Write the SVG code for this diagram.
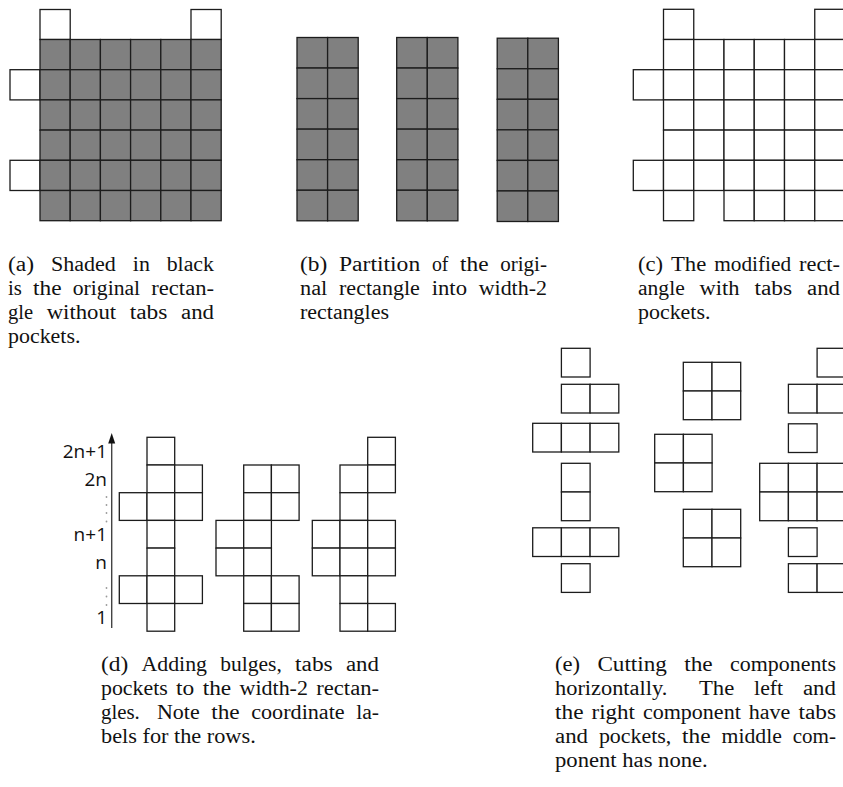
<svg xmlns="http://www.w3.org/2000/svg" width="843" height="787" viewBox="0 0 843 787">
<style>
  .c { fill: #ffffff; stroke: #1c1c1c; stroke-width: 1.3; }
  .g { fill: #808080; stroke: #1c1c1c; stroke-width: 1.3; }
  .cap { font-family: "Liberation Serif", "DejaVu Serif", serif; font-size: 20px; fill: #111111; }
  .lab { font-family: "Open Sans", "Liberation Sans", sans-serif; font-size: 19px; fill: #111111; text-anchor: end; }
  .dot { fill: #9a9a9a; }
</style>
<rect x="0" y="0" width="843" height="787" fill="#ffffff"/>

<!-- Panel (a) -->
<g id="panel-a">
  <rect class="c" x="40" y="9.5" width="30.2" height="30"/>
  <rect class="c" x="191" y="9.5" width="30.2" height="30"/>
  <rect class="c" x="10" y="69.7" width="30" height="30.2"/>
  <rect class="c" x="10" y="160.3" width="30" height="30.2"/>
  <g id="a-grid">
    <rect class="g" x="40" y="39.5" width="30.2" height="30.2"/><rect class="g" x="70.2" y="39.5" width="30.2" height="30.2"/><rect class="g" x="100.4" y="39.5" width="30.2" height="30.2"/><rect class="g" x="130.6" y="39.5" width="30.2" height="30.2"/><rect class="g" x="160.8" y="39.5" width="30.2" height="30.2"/><rect class="g" x="191" y="39.5" width="30.2" height="30.2"/>
    <rect class="g" x="40" y="69.7" width="30.2" height="30.2"/><rect class="g" x="70.2" y="69.7" width="30.2" height="30.2"/><rect class="g" x="100.4" y="69.7" width="30.2" height="30.2"/><rect class="g" x="130.6" y="69.7" width="30.2" height="30.2"/><rect class="g" x="160.8" y="69.7" width="30.2" height="30.2"/><rect class="g" x="191" y="69.7" width="30.2" height="30.2"/>
    <rect class="g" x="40" y="99.9" width="30.2" height="30.2"/><rect class="g" x="70.2" y="99.9" width="30.2" height="30.2"/><rect class="g" x="100.4" y="99.9" width="30.2" height="30.2"/><rect class="g" x="130.6" y="99.9" width="30.2" height="30.2"/><rect class="g" x="160.8" y="99.9" width="30.2" height="30.2"/><rect class="g" x="191" y="99.9" width="30.2" height="30.2"/>
    <rect class="g" x="40" y="130.1" width="30.2" height="30.2"/><rect class="g" x="70.2" y="130.1" width="30.2" height="30.2"/><rect class="g" x="100.4" y="130.1" width="30.2" height="30.2"/><rect class="g" x="130.6" y="130.1" width="30.2" height="30.2"/><rect class="g" x="160.8" y="130.1" width="30.2" height="30.2"/><rect class="g" x="191" y="130.1" width="30.2" height="30.2"/>
    <rect class="g" x="40" y="160.3" width="30.2" height="30.2"/><rect class="g" x="70.2" y="160.3" width="30.2" height="30.2"/><rect class="g" x="100.4" y="160.3" width="30.2" height="30.2"/><rect class="g" x="130.6" y="160.3" width="30.2" height="30.2"/><rect class="g" x="160.8" y="160.3" width="30.2" height="30.2"/><rect class="g" x="191" y="160.3" width="30.2" height="30.2"/>
    <rect class="g" x="40" y="190.5" width="30.2" height="30.2"/><rect class="g" x="70.2" y="190.5" width="30.2" height="30.2"/><rect class="g" x="100.4" y="190.5" width="30.2" height="30.2"/><rect class="g" x="130.6" y="190.5" width="30.2" height="30.2"/><rect class="g" x="160.8" y="190.5" width="30.2" height="30.2"/><rect class="g" x="191" y="190.5" width="30.2" height="30.2"/>
  </g>
  <text class="cap" y="271"><tspan x="8" textLength="26.2" lengthAdjust="spacingAndGlyphs">(a)</tspan> <tspan x="51" textLength="64.9" lengthAdjust="spacingAndGlyphs">Shaded</tspan> <tspan x="132.8" textLength="17.1" lengthAdjust="spacingAndGlyphs">in</tspan> <tspan x="166.7" textLength="47.3" lengthAdjust="spacingAndGlyphs">black</tspan></text>
  <text class="cap" y="295"><tspan x="8" textLength="13.8" lengthAdjust="spacingAndGlyphs">is</tspan> <tspan x="33" textLength="28.5" lengthAdjust="spacingAndGlyphs">the</tspan> <tspan x="72.8" textLength="67.3" lengthAdjust="spacingAndGlyphs">original</tspan> <tspan x="151.3" textLength="62.7" lengthAdjust="spacingAndGlyphs">rectan-</tspan></text>
  <text class="cap" y="319"><tspan x="8" textLength="25.1" lengthAdjust="spacingAndGlyphs">gle</tspan> <tspan x="46.7" textLength="69.5" lengthAdjust="spacingAndGlyphs">without</tspan> <tspan x="129.7" textLength="37.7" lengthAdjust="spacingAndGlyphs">tabs</tspan> <tspan x="181" textLength="33" lengthAdjust="spacingAndGlyphs">and</tspan></text>
  <text class="cap" x="8" y="343" textLength="72.4" lengthAdjust="spacingAndGlyphs">pockets.</text>
</g>

<!-- Panel (b) -->
<g id="panel-b">
  <g id="b-rect-1">
    <rect class="g" x="297" y="37.5" width="30.6" height="30.55"/><rect class="g" x="327.6" y="37.5" width="30.6" height="30.55"/>
    <rect class="g" x="297" y="68.05" width="30.6" height="30.55"/><rect class="g" x="327.6" y="68.05" width="30.6" height="30.55"/>
    <rect class="g" x="297" y="98.6" width="30.6" height="30.55"/><rect class="g" x="327.6" y="98.6" width="30.6" height="30.55"/>
    <rect class="g" x="297" y="129.15" width="30.6" height="30.55"/><rect class="g" x="327.6" y="129.15" width="30.6" height="30.55"/>
    <rect class="g" x="297" y="159.7" width="30.6" height="30.55"/><rect class="g" x="327.6" y="159.7" width="30.6" height="30.55"/>
    <rect class="g" x="297" y="190.25" width="30.6" height="30.55"/><rect class="g" x="327.6" y="190.25" width="30.6" height="30.55"/>
  </g>
  <g id="b-rect-2">
    <rect class="g" x="396.7" y="37.5" width="30.6" height="30.55"/><rect class="g" x="427.3" y="37.5" width="30.6" height="30.55"/>
    <rect class="g" x="396.7" y="68.05" width="30.6" height="30.55"/><rect class="g" x="427.3" y="68.05" width="30.6" height="30.55"/>
    <rect class="g" x="396.7" y="98.6" width="30.6" height="30.55"/><rect class="g" x="427.3" y="98.6" width="30.6" height="30.55"/>
    <rect class="g" x="396.7" y="129.15" width="30.6" height="30.55"/><rect class="g" x="427.3" y="129.15" width="30.6" height="30.55"/>
    <rect class="g" x="396.7" y="159.7" width="30.6" height="30.55"/><rect class="g" x="427.3" y="159.7" width="30.6" height="30.55"/>
    <rect class="g" x="396.7" y="190.25" width="30.6" height="30.55"/><rect class="g" x="427.3" y="190.25" width="30.6" height="30.55"/>
  </g>
  <g id="b-rect-3">
    <rect class="g" x="497.2" y="38.2" width="30.6" height="30.55"/><rect class="g" x="527.8" y="38.2" width="30.6" height="30.55"/>
    <rect class="g" x="497.2" y="68.75" width="30.6" height="30.55"/><rect class="g" x="527.8" y="68.75" width="30.6" height="30.55"/>
    <rect class="g" x="497.2" y="99.3" width="30.6" height="30.55"/><rect class="g" x="527.8" y="99.3" width="30.6" height="30.55"/>
    <rect class="g" x="497.2" y="129.85" width="30.6" height="30.55"/><rect class="g" x="527.8" y="129.85" width="30.6" height="30.55"/>
    <rect class="g" x="497.2" y="160.4" width="30.6" height="30.55"/><rect class="g" x="527.8" y="160.4" width="30.6" height="30.55"/>
    <rect class="g" x="497.2" y="190.95" width="30.6" height="30.55"/><rect class="g" x="527.8" y="190.95" width="30.6" height="30.55"/>
  </g>
  <text class="cap" y="271"><tspan x="300" textLength="27.3" lengthAdjust="spacingAndGlyphs">(b)</tspan> <tspan x="339" textLength="81.2" lengthAdjust="spacingAndGlyphs">Partition</tspan> <tspan x="431.9" textLength="16.5" lengthAdjust="spacingAndGlyphs">of</tspan> <tspan x="460" textLength="28.5" lengthAdjust="spacingAndGlyphs">the</tspan> <tspan x="500.2" textLength="46.8" lengthAdjust="spacingAndGlyphs">origi-</tspan></text>
  <text class="cap" y="295"><tspan x="300" textLength="27.3" lengthAdjust="spacingAndGlyphs">nal</tspan> <tspan x="339" textLength="80.9" lengthAdjust="spacingAndGlyphs">rectangle</tspan> <tspan x="431.7" textLength="35.3" lengthAdjust="spacingAndGlyphs">into</tspan> <tspan x="478.7" textLength="68.3" lengthAdjust="spacingAndGlyphs">width-2</tspan></text>
  <text class="cap" x="300" y="319" textLength="89" lengthAdjust="spacingAndGlyphs">rectangles</text>
</g>

<!-- Panel (c) -->
<g id="panel-c">
  <rect class="c" x="663.5" y="9.3" width="30.25" height="30.2"/>
  <rect class="c" x="814.75" y="9.3" width="30.25" height="30.2"/>
  <rect class="c" x="633.3" y="69.7" width="30.2" height="30.2"/>
  <rect class="c" x="633.3" y="160.3" width="30.2" height="30.2"/>
  <g id="c-grid">
    <rect class="c" x="663.5" y="39.5" width="30.25" height="30.2"/><rect class="c" x="693.75" y="39.5" width="30.25" height="30.2"/><rect class="c" x="724" y="39.5" width="30.25" height="30.2"/><rect class="c" x="754.25" y="39.5" width="30.25" height="30.2"/><rect class="c" x="784.5" y="39.5" width="30.25" height="30.2"/><rect class="c" x="814.75" y="39.5" width="30.25" height="30.2"/>
    <rect class="c" x="663.5" y="69.7" width="30.25" height="30.2"/><rect class="c" x="693.75" y="69.7" width="30.25" height="30.2"/><rect class="c" x="724" y="69.7" width="30.25" height="30.2"/><rect class="c" x="754.25" y="69.7" width="30.25" height="30.2"/><rect class="c" x="784.5" y="69.7" width="30.25" height="30.2"/><rect class="c" x="814.75" y="69.7" width="30.25" height="30.2"/>
    <rect class="c" x="663.5" y="99.9" width="30.25" height="30.2"/><rect class="c" x="693.75" y="99.9" width="30.25" height="30.2"/><rect class="c" x="724" y="99.9" width="30.25" height="30.2"/><rect class="c" x="754.25" y="99.9" width="30.25" height="30.2"/><rect class="c" x="784.5" y="99.9" width="30.25" height="30.2"/><rect class="c" x="814.75" y="99.9" width="30.25" height="30.2"/>
    <rect class="c" x="663.5" y="130.1" width="30.25" height="30.2"/><rect class="c" x="693.75" y="130.1" width="30.25" height="30.2"/><rect class="c" x="724" y="130.1" width="30.25" height="30.2"/><rect class="c" x="754.25" y="130.1" width="30.25" height="30.2"/><rect class="c" x="784.5" y="130.1" width="30.25" height="30.2"/><rect class="c" x="814.75" y="130.1" width="30.25" height="30.2"/>
    <rect class="c" x="663.5" y="160.3" width="30.25" height="30.2"/><rect class="c" x="693.75" y="160.3" width="30.25" height="30.2"/><rect class="c" x="724" y="160.3" width="30.25" height="30.2"/><rect class="c" x="754.25" y="160.3" width="30.25" height="30.2"/><rect class="c" x="784.5" y="160.3" width="30.25" height="30.2"/><rect class="c" x="814.75" y="160.3" width="30.25" height="30.2"/>
    <rect class="c" x="663.5" y="190.5" width="30.25" height="30.2"/><rect class="c" x="724" y="190.5" width="30.25" height="30.2"/><rect class="c" x="754.25" y="190.5" width="30.25" height="30.2"/><rect class="c" x="784.5" y="190.5" width="30.25" height="30.2"/><rect class="c" x="814.75" y="190.5" width="30.25" height="30.2"/>
  </g>
  <text class="cap" y="271"><tspan x="638" textLength="25.1" lengthAdjust="spacingAndGlyphs">(c)</tspan> <tspan x="671" textLength="35.3" lengthAdjust="spacingAndGlyphs">The</tspan> <tspan x="714.2" textLength="76.9" lengthAdjust="spacingAndGlyphs">modified</tspan> <tspan x="799" textLength="41" lengthAdjust="spacingAndGlyphs">rect-</tspan></text>
  <text class="cap" y="295"><tspan x="638" textLength="46.7" lengthAdjust="spacingAndGlyphs">angle</tspan> <tspan x="699.6" textLength="39.9" lengthAdjust="spacingAndGlyphs">with</tspan> <tspan x="754.4" textLength="37.7" lengthAdjust="spacingAndGlyphs">tabs</tspan> <tspan x="807" textLength="33" lengthAdjust="spacingAndGlyphs">and</tspan></text>
  <text class="cap" x="638" y="319" textLength="72.4" lengthAdjust="spacingAndGlyphs">pockets.</text>
</g>

<!-- Panel (d) -->
<g id="panel-d">
  <g id="d-axis">
    <line x1="111.7" y1="628" x2="111.7" y2="442" stroke="#444444" stroke-width="1.4"/>
    <polygon points="111.7,433 115.2,443.5 108.2,443.5" fill="#111111"/>
    <text class="lab" x="107" y="458">2n+1</text>
    <text class="lab" x="107" y="486">2n</text>
    <circle class="dot" cx="106.5" cy="497" r="0.9"/><circle class="dot" cx="106.5" cy="505" r="0.9"/><circle class="dot" cx="106.5" cy="513" r="0.9"/><circle class="dot" cx="106.5" cy="521.5" r="0.9"/>
    <text class="lab" x="107" y="541">n+1</text>
    <text class="lab" x="107" y="569">n</text>
    <circle class="dot" cx="106.5" cy="588" r="0.9"/><circle class="dot" cx="106.5" cy="596.5" r="0.9"/><circle class="dot" cx="106.5" cy="605" r="0.9"/>
    <text class="lab" x="107" y="624">1</text>
  </g>
  <g id="d-comp-1">
    <rect class="c" x="147" y="437.3" width="27.7" height="27.7"/>
    <rect class="c" x="147" y="465" width="27.7" height="27.7"/><rect class="c" x="174.7" y="465" width="27.7" height="27.7"/>
    <rect class="c" x="119.3" y="492.7" width="27.7" height="27.7"/><rect class="c" x="147" y="492.7" width="27.7" height="27.7"/><rect class="c" x="174.7" y="492.7" width="27.7" height="27.7"/>
    <rect class="c" x="147" y="520.4" width="27.7" height="27.7"/>
    <rect class="c" x="147" y="548.1" width="27.7" height="27.7"/>
    <rect class="c" x="119.3" y="575.8" width="27.7" height="27.7"/><rect class="c" x="147" y="575.8" width="27.7" height="27.7"/><rect class="c" x="174.7" y="575.8" width="27.7" height="27.7"/>
    <rect class="c" x="147" y="603.5" width="27.7" height="27.7"/>
  </g>
  <g id="d-comp-2">
    <rect class="c" x="243.7" y="465" width="27.7" height="27.7"/><rect class="c" x="271.4" y="465" width="27.7" height="27.7"/>
    <rect class="c" x="243.7" y="492.7" width="27.7" height="27.7"/><rect class="c" x="271.4" y="492.7" width="27.7" height="27.7"/>
    <rect class="c" x="216" y="520.4" width="27.7" height="27.7"/><rect class="c" x="243.7" y="520.4" width="27.7" height="27.7"/>
    <rect class="c" x="216" y="548.1" width="27.7" height="27.7"/><rect class="c" x="243.7" y="548.1" width="27.7" height="27.7"/>
    <rect class="c" x="243.7" y="575.8" width="27.7" height="27.7"/><rect class="c" x="271.4" y="575.8" width="27.7" height="27.7"/>
    <rect class="c" x="243.7" y="603.5" width="27.7" height="27.7"/><rect class="c" x="271.4" y="603.5" width="27.7" height="27.7"/>
  </g>
  <g id="d-comp-3">
    <rect class="c" x="367.7" y="437.3" width="27.7" height="27.7"/>
    <rect class="c" x="340" y="465" width="27.7" height="27.7"/><rect class="c" x="367.7" y="465" width="27.7" height="27.7"/>
    <rect class="c" x="340" y="492.7" width="27.7" height="27.7"/>
    <rect class="c" x="312.3" y="520.4" width="27.7" height="27.7"/><rect class="c" x="340" y="520.4" width="27.7" height="27.7"/><rect class="c" x="367.7" y="520.4" width="27.7" height="27.7"/>
    <rect class="c" x="312.3" y="548.1" width="27.7" height="27.7"/><rect class="c" x="340" y="548.1" width="27.7" height="27.7"/><rect class="c" x="367.7" y="548.1" width="27.7" height="27.7"/>
    <rect class="c" x="340" y="575.8" width="27.7" height="27.7"/>
    <rect class="c" x="340" y="603.5" width="27.7" height="27.7"/><rect class="c" x="367.7" y="603.5" width="27.7" height="27.7"/>
  </g>
  <text class="cap" y="671"><tspan x="101" textLength="27.3" lengthAdjust="spacingAndGlyphs">(d)</tspan> <tspan x="141.5" textLength="65.5" lengthAdjust="spacingAndGlyphs">Adding</tspan> <tspan x="220.2" textLength="61.6" lengthAdjust="spacingAndGlyphs">bulges,</tspan> <tspan x="295" textLength="37.7" lengthAdjust="spacingAndGlyphs">tabs</tspan> <tspan x="345.9" textLength="33" lengthAdjust="spacingAndGlyphs">and</tspan></text>
  <text class="cap" y="695"><tspan x="101" textLength="66.7" lengthAdjust="spacingAndGlyphs">pockets</tspan> <tspan x="176.1" textLength="18.2" lengthAdjust="spacingAndGlyphs">to</tspan> <tspan x="202.7" textLength="28.5" lengthAdjust="spacingAndGlyphs">the</tspan> <tspan x="239.6" textLength="68.3" lengthAdjust="spacingAndGlyphs">width-2</tspan> <tspan x="316.3" textLength="62.7" lengthAdjust="spacingAndGlyphs">rectan-</tspan></text>
  <text class="cap" y="719"><tspan x="101" textLength="38.8" lengthAdjust="spacingAndGlyphs">gles.</tspan> <tspan x="157" textLength="42.7" lengthAdjust="spacingAndGlyphs">Note</tspan> <tspan x="211.2" textLength="28.5" lengthAdjust="spacingAndGlyphs">the</tspan> <tspan x="251.2" textLength="93.5" lengthAdjust="spacingAndGlyphs">coordinate</tspan> <tspan x="356.2" textLength="22.8" lengthAdjust="spacingAndGlyphs">la-</tspan></text>
  <text class="cap" x="101" y="743" textLength="154.7" lengthAdjust="spacingAndGlyphs">bels for the rows.</text>
</g>

<!-- Panel (e) -->
<g id="panel-e">
  <g id="e-left">
    <rect class="c" x="561.4" y="348.3" width="28.7" height="28.7"/>
    <rect class="c" x="561.4" y="384.3" width="28.7" height="28.7"/><rect class="c" x="590.1" y="384.3" width="28.7" height="28.7"/>
    <rect class="c" x="532.7" y="423.3" width="28.7" height="28.7"/><rect class="c" x="561.4" y="423.3" width="28.7" height="28.7"/><rect class="c" x="590.1" y="423.3" width="28.7" height="28.7"/>
    <rect class="c" x="561.4" y="463.3" width="28.7" height="28.7"/><rect class="c" x="561.4" y="492" width="28.7" height="28.7"/>
    <rect class="c" x="532.7" y="527.8" width="28.7" height="28.7"/><rect class="c" x="561.4" y="527.8" width="28.7" height="28.7"/><rect class="c" x="590.1" y="527.8" width="28.7" height="28.7"/>
    <rect class="c" x="561.4" y="563.7" width="28.7" height="28.7"/>
  </g>
  <g id="e-middle">
    <rect class="c" x="683.3" y="362.3" width="28.7" height="28.7"/><rect class="c" x="712" y="362.3" width="28.7" height="28.7"/>
    <rect class="c" x="683.3" y="391" width="28.7" height="28.7"/><rect class="c" x="712" y="391" width="28.7" height="28.7"/>
    <rect class="c" x="654.7" y="434.3" width="28.7" height="28.7"/><rect class="c" x="683.4" y="434.3" width="28.7" height="28.7"/>
    <rect class="c" x="654.7" y="463" width="28.7" height="28.7"/><rect class="c" x="683.4" y="463" width="28.7" height="28.7"/>
    <rect class="c" x="683.3" y="509.3" width="28.7" height="28.7"/><rect class="c" x="712" y="509.3" width="28.7" height="28.7"/>
    <rect class="c" x="683.3" y="538" width="28.7" height="28.7"/><rect class="c" x="712" y="538" width="28.7" height="28.7"/>
  </g>
  <g id="e-right">
    <rect class="c" x="817.1" y="348.3" width="28.7" height="28.7"/>
    <rect class="c" x="788.4" y="384.3" width="28.7" height="28.7"/><rect class="c" x="817.1" y="384.3" width="28.7" height="28.7"/>
    <rect class="c" x="788.4" y="423.8" width="28.7" height="28.7"/>
    <rect class="c" x="759.7" y="463.3" width="28.7" height="28.7"/><rect class="c" x="788.4" y="463.3" width="28.7" height="28.7"/><rect class="c" x="817.1" y="463.3" width="28.7" height="28.7"/>
    <rect class="c" x="759.7" y="492" width="28.7" height="28.7"/><rect class="c" x="788.4" y="492" width="28.7" height="28.7"/><rect class="c" x="817.1" y="492" width="28.7" height="28.7"/>
    <rect class="c" x="788.4" y="527.8" width="28.7" height="28.7"/>
    <rect class="c" x="788.4" y="563.7" width="28.7" height="28.7"/><rect class="c" x="817.1" y="563.7" width="28.7" height="28.7"/>
  </g>
  <text class="cap" y="671"><tspan x="555" textLength="25.1" lengthAdjust="spacingAndGlyphs">(e)</tspan> <tspan x="597.4" textLength="69.5" lengthAdjust="spacingAndGlyphs">Cutting</tspan> <tspan x="684.2" textLength="28.5" lengthAdjust="spacingAndGlyphs">the</tspan> <tspan x="730" textLength="106" lengthAdjust="spacingAndGlyphs">components</tspan></text>
  <text class="cap" y="695"><tspan x="555" textLength="112.3" lengthAdjust="spacingAndGlyphs">horizontally.</tspan> <tspan x="699" textLength="35.3" lengthAdjust="spacingAndGlyphs">The</tspan> <tspan x="754.1" textLength="29" lengthAdjust="spacingAndGlyphs">left</tspan> <tspan x="802.9" textLength="33" lengthAdjust="spacingAndGlyphs">and</tspan></text>
  <text class="cap" y="719"><tspan x="555" textLength="28.5" lengthAdjust="spacingAndGlyphs">the</tspan> <tspan x="591.5" textLength="43.4" lengthAdjust="spacingAndGlyphs">right</tspan> <tspan x="642.9" textLength="97.9" lengthAdjust="spacingAndGlyphs">component</tspan> <tspan x="748.8" textLength="41.6" lengthAdjust="spacingAndGlyphs">have</tspan> <tspan x="798.4" textLength="37.7" lengthAdjust="spacingAndGlyphs">tabs</tspan></text>
  <text class="cap" y="743"><tspan x="555" textLength="33" lengthAdjust="spacingAndGlyphs">and</tspan> <tspan x="598.9" textLength="72.4" lengthAdjust="spacingAndGlyphs">pockets,</tspan> <tspan x="682.1" textLength="28.5" lengthAdjust="spacingAndGlyphs">the</tspan> <tspan x="721.5" textLength="60.4" lengthAdjust="spacingAndGlyphs">middle</tspan> <tspan x="792.7" textLength="43.3" lengthAdjust="spacingAndGlyphs">com-</tspan></text>
  <text class="cap" x="555" y="767" textLength="152.8" lengthAdjust="spacingAndGlyphs">ponent has none.</text>
</g>
</svg>
